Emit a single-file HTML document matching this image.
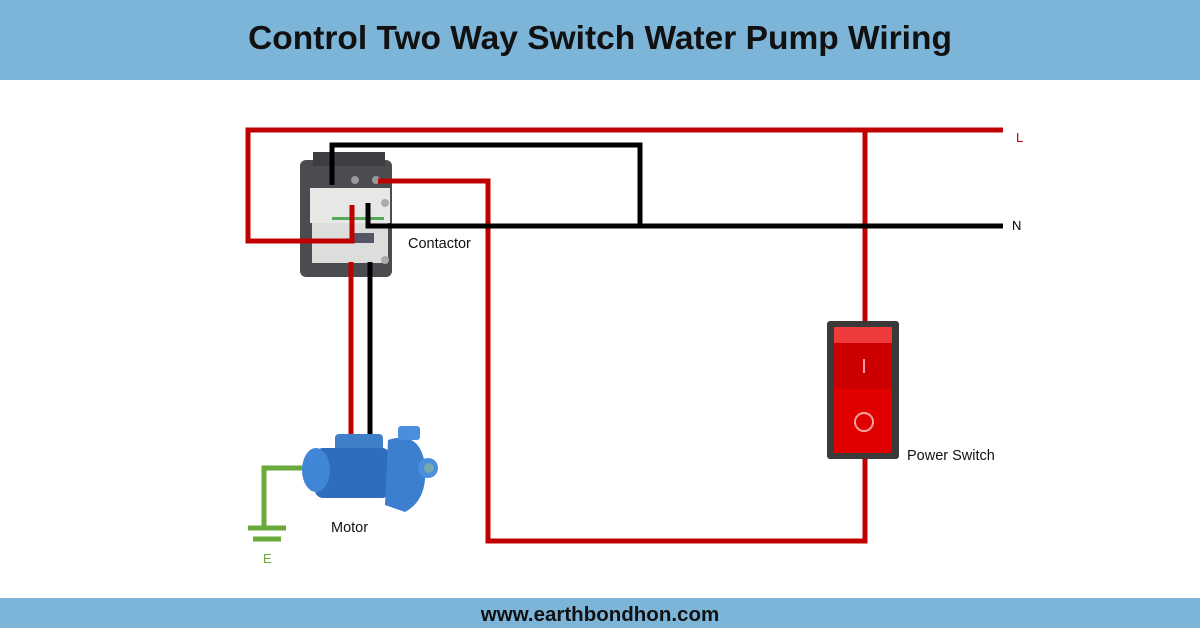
<!DOCTYPE html>
<html><head><meta charset="utf-8"><style>
html,body{margin:0;padding:0;background:#fff}
svg{display:block}
text{font-family:"Liberation Sans",sans-serif}
</style></head><body>
<svg width="1200" height="628" viewBox="0 0 1200 628">
<rect x="0" y="0" width="1200" height="80" fill="#7db5d8"/>
<text x="600" y="49" text-anchor="middle" font-size="33.5" font-weight="bold" fill="#111">Control Two Way Switch Water Pump Wiring</text>
<rect x="0" y="598" width="1200" height="30" fill="#7db5d8"/>
<text x="600" y="621" text-anchor="middle" font-size="20.5" font-weight="bold" fill="#111">www.earthbondhon.com</text>

<!-- contactor -->
<rect x="300" y="160" width="92" height="117" rx="6" fill="#4a4c50"/>
<rect x="313" y="152" width="72" height="14" fill="#3c3e42"/>
<rect x="310" y="188" width="80" height="35" fill="#e6e8e6"/>
<rect x="312" y="223" width="76" height="40" fill="#dcdedc"/>
<rect x="352" y="233" width="22" height="10" fill="#556"/>
<rect x="332" y="217" width="52" height="3" fill="#5a5"/>
<circle cx="355" cy="180" r="4" fill="#999"/><circle cx="376" cy="180" r="4" fill="#999"/>
<circle cx="385" cy="203" r="4" fill="#aaa"/><circle cx="385" cy="260" r="4" fill="#aaa"/>

<g fill="none" stroke-width="5">
<path d="M1003 130 H248 V241 H352 V205" stroke="#c00000"/>
<path d="M865 130 V322" stroke="#c00000"/>
<path d="M378 181 H488 V541 H865 V458" stroke="#c00000"/>
<path d="M332 185 V145 H640 V226" stroke="#000"/>
<path d="M1003 226 H368 V203" stroke="#000"/>
<path d="M351 262 V435" stroke="#c00000"/>
<path d="M370 262 V435" stroke="#000"/>
<path d="M305 468 H264 V528" stroke="#6aaa3a"/>
<path d="M248 528 H286 M253 539 H281" stroke="#6aaa3a"/>
</g>
<text x="1016" y="142" font-size="13" fill="#c00000">L</text>
<text x="1012" y="230" font-size="13" fill="#000">N</text>
<text x="408" y="248" font-size="14.5" fill="#111">Contactor</text>

<!-- motor -->
<rect x="335" y="434" width="48" height="28" rx="4" fill="#3f7fc8"/>
<rect x="315" y="448" width="75" height="50" rx="8" fill="#2e6cbf"/>
<ellipse cx="316" cy="470" rx="14" ry="22" fill="#3f86d6"/>
<path d="M388 440 Q420 430 425 465 Q428 500 405 512 L385 505 Z" fill="#3d7fcf"/>
<rect x="398" y="426" width="22" height="14" rx="3" fill="#4a8ee0"/>
<circle cx="428" cy="468" r="10" fill="#4a8ee0"/><circle cx="429" cy="468" r="5" fill="#7aa"/>
<text x="331" y="532" font-size="14.5" fill="#111">Motor</text>
<text x="263" y="563" font-size="13" fill="#6aaa3a">E</text>

<!-- switch -->
<rect x="827" y="321" width="72" height="138" rx="3" fill="#3a3a3a"/>
<rect x="834" y="327" width="58" height="126" fill="#e00000"/>
<rect x="834" y="327" width="58" height="16" fill="#ef3b3b"/>
<rect x="834" y="343" width="58" height="46" fill="#cc0000"/>
<rect x="863" y="359" width="2" height="14" fill="#f9a"/>
<circle cx="864" cy="422" r="9" fill="none" stroke="#f6a0a0" stroke-width="2"/>
<text x="907" y="460" font-size="14.5" fill="#111">Power Switch</text>
</svg>
</body></html>
